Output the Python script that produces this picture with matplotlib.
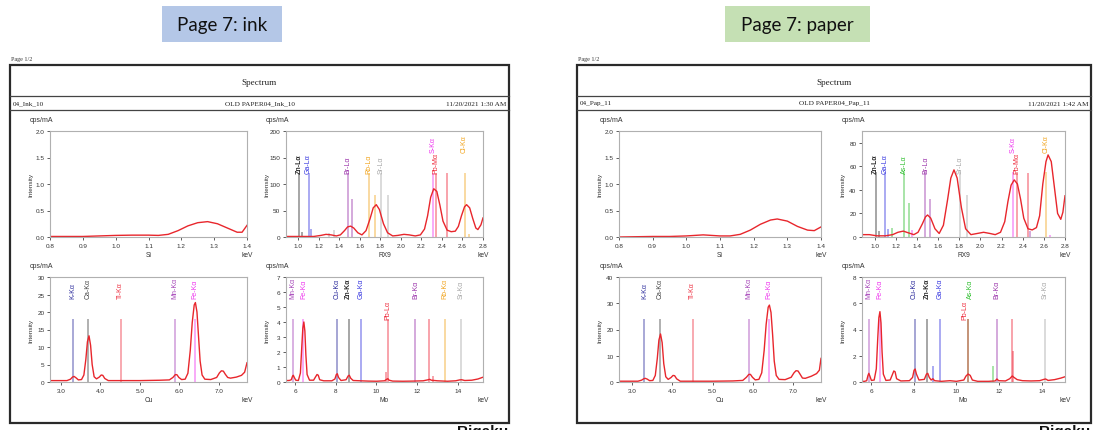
import matplotlib
matplotlib.use("Agg")
import matplotlib.pyplot as plt
from matplotlib.patches import Rectangle
from matplotlib.lines import Line2D

W, H = 1098, 431

# ---------------- ink page (left) ----------------
INK_SI_KEV = [0.80, 0.85, 0.90, 0.95, 1.00, 1.05, 1.10, 1.13, 1.16, 1.19, 1.22, 1.25,
              1.28, 1.31, 1.34, 1.37, 1.385, 1.40]
INK_SI_CPS = [0.01, 0.01, 0.01, 0.02, 0.03, 0.035, 0.035, 0.03, 0.05, 0.12, 0.21, 0.27,
              0.29, 0.25, 0.17, 0.09, 0.09, 0.22]

INK_RX9_KEV = [0.88, 0.95, 1.05, 1.15, 1.22, 1.27, 1.32, 1.37, 1.41, 1.45, 1.48, 1.51,
               1.54, 1.58, 1.62, 1.66, 1.70, 1.73, 1.76, 1.79, 1.83, 1.87, 1.92, 1.97,
               2.03, 2.08, 2.14, 2.19, 2.23, 2.26, 2.29, 2.32, 2.35, 2.38, 2.41, 2.45,
               2.49, 2.53, 2.56, 2.59, 2.62, 2.64, 2.67, 2.70, 2.73, 2.75, 2.78, 2.80]
INK_RX9_CPS = [1, 1, 1, 1, 3, 5, 4, 2, 4, 12, 19, 20.5,
               17, 8, 4, 12, 35, 55, 61, 52, 25, 8, 2, 3,
               5, 4, 2, 4, 15, 40, 75, 91, 86, 60, 30, 13,
               10, 11, 20, 40, 57, 61, 55, 35, 17, 14, 23, 36]

INK_CU_KEV = [2.72, 3.0, 3.15, 3.24, 3.29, 3.33, 3.38, 3.44, 3.52, 3.58, 3.63, 3.67,
              3.71, 3.75, 3.79, 3.84, 3.9, 3.97, 4.02, 4.06, 4.11, 4.2, 4.5, 5.0,
              5.5, 5.75, 5.84, 5.9, 5.94, 5.99, 6.06, 6.15, 6.22, 6.28, 6.33, 6.38,
              6.41, 6.45, 6.49, 6.53, 6.58, 6.65, 6.8, 6.95, 7.02, 7.07, 7.12, 7.17,
              7.23, 7.3, 7.45, 7.58, 7.66, 7.72]
INK_CU_CPS = [0.4, 0.4, 0.4, 0.8, 1.4, 1.6, 1.2, 0.6, 0.7, 2.0, 6.5, 11.5,
              13.2, 10.5, 5.0, 1.5, 0.9, 1.4, 2.0, 1.9, 1.0, 0.4, 0.4, 0.4,
              0.5, 0.6, 1.3, 2.1, 2.1, 1.3, 0.7, 0.8, 2.5, 9.0, 17.0, 22.0,
              22.7, 20.0, 13.0, 6.0, 2.0, 0.8, 0.7, 1.3, 2.6, 3.2, 3.1, 2.2,
              1.3, 1.1, 1.4, 1.9, 2.8, 5.5]

INK_MO_KEV = [5.54, 5.7, 5.8, 5.86, 5.9, 5.95, 6.02, 6.15, 6.25, 6.32, 6.37, 6.42,
              6.47, 6.52, 6.58, 6.7, 6.9, 7.0, 7.07, 7.13, 7.2, 7.4, 7.8, 7.95,
              8.02, 8.07, 8.13, 8.25, 8.5, 8.6, 8.66, 8.73, 8.85, 9.2, 9.6, 10.0,
              10.4, 10.5, 10.56, 10.62, 10.8, 11.3, 11.8, 12.3, 12.55, 12.62, 12.7, 13.0,
              13.5, 13.9, 14.1, 14.2, 14.35, 14.7, 15.0, 15.25]
INK_MO_CPS = [0.1, 0.1, 0.15, 0.38, 0.45, 0.3, 0.12, 0.1, 0.6, 2.4, 3.6, 4.0,
              3.4, 1.8, 0.5, 0.12, 0.12, 0.35, 0.5, 0.45, 0.15, 0.08, 0.08, 0.2,
              0.5, 0.55, 0.3, 0.1, 0.15, 0.4, 0.45, 0.25, 0.1, 0.08, 0.06, 0.05,
              0.08, 0.18, 0.22, 0.12, 0.06, 0.05, 0.06, 0.08, 0.15, 0.18, 0.12, 0.08,
              0.05, 0.08, 0.14, 0.15, 0.1, 0.12, 0.2, 0.32]

# element marker lines: energy, height, element
INK_RX9_LINE_KEV = [1.01, 1.035, 1.10, 1.125, 1.30, 1.35, 1.48, 1.525, 1.69, 1.75,
                    1.81, 1.87, 2.31, 2.345, 2.45, 2.62, 2.66]
INK_RX9_LINE_CPS = [120, 10, 120, 15, 8, 14, 120, 72, 120, 80,
                    120, 80, 120, 120, 120, 120, 5]
INK_RX9_LINE_EL = ["Zn", "Zn", "Ga", "Ga", "Sr", "Sr", "Br", "Br", "Rb", "Rb",
                   "Sr", "Sr", "S", "Pb", "Pb", "Cl", "Cl"]
INK_RX9_LABELS = ["Zn-Lα", "Ga-Lα", "Br-Lα", "Rb-Lα", "Sr-Lα", "S-Kα", "Pb-Mα", "Cl-Kα"]
INK_RX9_LABEL_KEV = [1.01, 1.10, 1.48, 1.69, 1.81, 2.31, 2.345, 2.62]
INK_RX9_LABEL_ROW = [1, 1, 1, 1, 1, 2, 1, 2]

INK_CU_LINE_KEV = [3.31, 3.69, 4.51, 5.90, 6.40]
INK_CU_LINE_CPS = [18, 18, 18, 18, 18]
INK_CU_LINE_EL = ["K", "Ca", "Ti", "Mn", "Fe"]
INK_CU_LABELS = ["K-Kα", "Ca-Kα", "Ti-Kα", "Mn-Kα", "Fe-Kα"]
INK_CU_LABEL_KEV = [3.31, 3.69, 4.51, 5.90, 6.40]
INK_CU_LABEL_ROW = [2, 2, 2, 2, 2]

INK_MO_LINE_KEV = [5.90, 6.40, 8.04, 8.63, 9.25, 10.45, 10.55, 11.92, 12.61, 12.8, 13.39, 14.16]
INK_MO_LINE_CPS = [4.2, 4.2, 4.2, 4.2, 4.2, 0.7, 4.2, 4.2, 4.2, 0.4, 4.2, 4.2]
INK_MO_LINE_EL = ["Mn", "Fe", "Cu", "Zn", "Ga", "Pb", "Pb", "Br", "Pb", "Pb", "Rb", "Sr"]
INK_MO_LABELS = ["Mn-Kα", "Fe-Kα", "Cu-Kα", "Zn-Kα", "Ga-Kα", "Pb-Lα", "Br-Kα", "Rb-Kα", "Sr-Kα"]
INK_MO_LABEL_KEV = [5.90, 6.40, 8.04, 8.63, 9.25, 10.55, 11.92, 13.39, 14.16]
INK_MO_LABEL_ROW = [2, 2, 2, 2, 2, 1, 2, 2, 2]

# ---------------- paper page (right) ----------------
PAP_SI_KEV = [0.80, 0.85, 0.90, 0.95, 1.00, 1.05, 1.10, 1.13, 1.16, 1.19, 1.22, 1.25,
              1.27, 1.30, 1.33, 1.36, 1.38, 1.40]
PAP_SI_CPS = [0.0, 0.005, 0.01, 0.01, 0.02, 0.04, 0.02, 0.02, 0.05, 0.13, 0.24, 0.32,
              0.34, 0.30, 0.20, 0.13, 0.12, 0.19]

PAP_RX9_KEV = [0.88, 0.95, 1.02, 1.10, 1.17, 1.22, 1.27, 1.32, 1.37, 1.41, 1.45, 1.48,
               1.50, 1.53, 1.57, 1.61, 1.65, 1.69, 1.72, 1.75, 1.78, 1.82, 1.86, 1.91,
               1.97, 2.03, 2.09, 2.14, 2.19, 2.23, 2.26, 2.29, 2.32, 2.35, 2.38, 2.41,
               2.45, 2.49, 2.53, 2.56, 2.59, 2.62, 2.64, 2.67, 2.70, 2.73, 2.76, 2.78, 2.80]
PAP_RX9_CPS = [2, 2, 1, 1, 2, 4, 5, 3.5, 2, 4, 11, 17,
               18.7, 16, 7, 3, 10, 32, 50, 57, 50, 25, 7, 2,
               3, 4, 3, 2, 4, 13, 30, 44, 48.5, 45, 32, 16,
               7, 6, 8, 18, 45, 64, 69.7, 64, 42, 20, 15, 21, 35]

PAP_CU_KEV = [2.68, 3.0, 3.15, 3.24, 3.29, 3.33, 3.38, 3.44, 3.52, 3.58, 3.63, 3.67,
              3.71, 3.75, 3.79, 3.84, 3.9, 3.97, 4.02, 4.06, 4.11, 4.2, 4.5, 5.0,
              5.5, 5.75, 5.84, 5.9, 5.94, 5.99, 6.06, 6.15, 6.22, 6.28, 6.33, 6.38,
              6.41, 6.45, 6.49, 6.53, 6.58, 6.65, 6.8, 6.95, 7.02, 7.07, 7.12, 7.17,
              7.23, 7.3, 7.45, 7.58, 7.65, 7.69]
PAP_CU_CPS = [0.3, 0.3, 0.3, 0.7, 1.2, 1.4, 1.1, 0.5, 0.6, 2.5, 9.0, 16.0,
              18.3, 15.0, 7.0, 2.0, 1.0, 1.7, 2.5, 2.4, 1.2, 0.3, 0.3, 0.3,
              0.4, 0.6, 1.8, 2.9, 2.9, 1.8, 0.8, 1.0, 3.5, 12.0, 22.0, 28.5,
              29.3, 26.5, 18.0, 8.0, 2.5, 1.0, 0.9, 1.8, 3.5, 4.3, 4.2, 3.0,
              1.5, 1.4, 2.2, 3.2, 4.5, 9.0]

PAP_MO_KEV = [5.58, 5.7, 5.8, 5.86, 5.9, 5.95, 6.02, 6.15, 6.25, 6.32, 6.37, 6.42,
              6.47, 6.52, 6.58, 6.7, 6.9, 7.0, 7.07, 7.13, 7.2, 7.4, 7.8, 7.95,
              8.02, 8.07, 8.13, 8.25, 8.5, 8.6, 8.66, 8.73, 8.82, 8.9, 8.98, 9.3,
              9.7, 10.0, 10.35, 10.45, 10.55, 10.65, 10.75, 11.0, 11.5, 11.82, 11.9, 11.98,
              12.3, 12.5, 12.62, 12.7, 12.85, 13.1, 13.5, 13.9, 14.1, 14.18, 14.3, 14.6,
              14.9, 15.09]
PAP_MO_CPS = [0.05, 0.05, 0.1, 0.5, 0.66, 0.45, 0.12, 0.15, 1.0, 3.4, 4.9, 5.36,
              4.5, 2.3, 0.6, 0.12, 0.15, 0.55, 0.84, 0.78, 0.25, 0.08, 0.1, 0.35,
              0.9, 0.99, 0.6, 0.15, 0.2, 0.6, 0.66, 0.35, 0.15, 0.25, 0.1, 0.05,
              0.1, 0.05, 0.15, 0.45, 0.61, 0.5, 0.15, 0.05, 0.05, 0.08, 0.23, 0.1,
              0.08, 0.25, 0.46, 0.35, 0.18, 0.1, 0.08, 0.1, 0.2, 0.23, 0.12, 0.18,
              0.3, 0.4]

PAP_RX9_LINE_KEV = [1.01, 1.04, 1.10, 1.125, 1.16, 1.28, 1.32, 1.35, 1.48, 1.525,
                    1.81, 1.87, 2.31, 2.345, 2.45, 2.47, 2.62, 2.66]
PAP_RX9_LINE_CPS = [55, 5, 55, 7, 8, 55, 29, 6, 55, 32,
                    55, 36, 55, 55, 54, 5, 55, 2]
PAP_RX9_LINE_EL = ["Zn", "Zn", "Ga", "Ga", "As", "As", "As", "S", "Br", "Br",
                   "Sr", "Sr", "S", "Pb", "Pb", "Br", "Cl", "S"]
PAP_RX9_LABELS = ["Zn-Lα", "Ga-Lα", "As-Lα", "Br-Lα", "Sr-Lα", "S-Kα", "Pb-Mα", "Cl-Kα"]
PAP_RX9_LABEL_KEV = [1.01, 1.10, 1.28, 1.48, 1.81, 2.31, 2.345, 2.62]
PAP_RX9_LABEL_ROW = [1, 1, 1, 1, 1, 2, 1, 2]

PAP_CU_LINE_KEV = [3.31, 3.69, 4.51, 5.90, 6.40]
PAP_CU_LINE_CPS = [24, 24, 24, 24, 24]
PAP_CU_LINE_EL = ["K", "Ca", "Ti", "Mn", "Fe"]
PAP_CU_LABELS = ["K-Kα", "Ca-Kα", "Ti-Kα", "Mn-Kα", "Fe-Kα"]
PAP_CU_LABEL_KEV = [3.31, 3.69, 4.51, 5.90, 6.40]
PAP_CU_LABEL_ROW = [2, 2, 2, 2, 2]

PAP_MO_LINE_KEV = [5.90, 6.40, 8.04, 8.63, 8.90, 9.25, 10.53, 10.55, 11.73, 11.92,
                   12.61, 12.64, 14.16]
PAP_MO_LINE_CPS = [4.8, 4.8, 4.8, 4.8, 1.2, 4.8, 4.8, 4.8, 1.25, 4.8,
                   4.8, 2.4, 4.8]
PAP_MO_LINE_EL = ["Mn", "Fe", "Cu", "Zn", "Ga", "Ga", "As", "Pb", "As", "Br",
                  "Pb", "Pb", "Sr"]
PAP_MO_LABELS = ["Mn-Kα", "Fe-Kα", "Cu-Kα", "Zn-Kα", "Ga-Kα", "Pb-Lα", "As-Kα", "Br-Kα", "Sr-Kα"]
PAP_MO_LABEL_KEV = [5.90, 6.40, 8.04, 8.63, 9.25, 10.40, 10.68, 11.92, 14.16]
PAP_MO_LABEL_ROW = [2, 2, 2, 2, 2, 1, 2, 2, 2]

EL_COLOR = {
    "Zn": "#2b2b2b", "Ga": "#3535e0", "Br": "#9a32aa", "Rb": "#f2a51f",
    "Sr": "#a8a8a8", "S": "#ee35ee", "Pb": "#ee2436", "Cl": "#f2a51f",
    "K": "#30309e", "Ca": "#444444", "Ti": "#ee3344", "Mn": "#a543b8",
    "Fe": "#ee35ee", "Cu": "#27279a", "As": "#2fbf2f",
}
SPEC_RED = "#e8262c"
SANS = ["Liberation Sans", "DejaVu Sans"]
SERIF = ["Liberation Serif", "DejaVu Serif"]


def px(l, t, r, b):
    return [l / W, 1 - b / H, (r - l) / W, (b - t) / H]


def ftext(fig, x, y, s, **kw):
    fig.text(x / W, 1 - y / H, s, **kw)


def fline(fig, x0, y0, x1, y1, lw=0.8, color="#555555"):
    fig.add_artist(Line2D([x0 / W, x1 / W], [1 - y0 / H, 1 - y1 / H],
                          transform=fig.transFigure, lw=lw, color=color))


def panel(fig, box, kev, cps, xlim, ylim, xticks, xfmt, yticks, yfmt, name,
          line_kev, line_cps, line_el, labels, label_kev, label_row):
    l, t, r, b = box
    ax = fig.add_axes(px(l, t, r, b))
    for e, h, el in zip(line_kev, line_cps, line_el):
        ax.vlines(e, 0, h, color=EL_COLOR[el], lw=1.3, alpha=0.45)
    ax.plot(kev, cps, color=SPEC_RED, lw=1.0)
    for s, e, row in zip(labels, label_kev, label_row):
        el = s.split("-")[0]
        y = (0.6 if row == 1 else 0.8) * ylim[1]
        ax.text(e, y, s, rotation=90, ha="center", va="bottom", color=EL_COLOR[el],
                fontsize=5.0, family=SANS, fontweight="bold" if el == "Zn" else "normal")
    ax.set_xlim(*xlim)
    ax.set_ylim(*ylim)
    ax.set_xticks(xticks)
    ax.set_xticklabels([xfmt.format(v) for v in xticks])
    ax.set_yticks(yticks)
    ax.set_yticklabels([yfmt.format(v) for v in yticks])
    ax.tick_params(length=2.5, width=0.6, color="#444444", labelsize=4.6,
                   labelcolor="#333333", pad=1.5)
    for lab in ax.get_xticklabels() + ax.get_yticklabels():
        lab.set_family(SANS)
    for sp in ax.spines.values():
        sp.set_color("#b0b0b0")
        sp.set_linewidth(0.8)
    ax.set_facecolor("white")
    ftext(fig, l - 8, t - 12, "cps/mA", ha="center", va="center", fontsize=5.0,
          family=SANS, color="#333333")
    ftext(fig, l - 19, (t + b) / 2, "Intensity", ha="center", va="center", rotation=90,
          fontsize=4.6, family=SANS, color="#333333")
    ftext(fig, (l + r) / 2, b + 18, name, ha="center", va="center", fontsize=4.8,
          family=SANS, color="#333333")
    ftext(fig, r, b + 18, "keV", ha="center", va="center", fontsize=4.8,
          family=SANS, color="#333333")
    return ax


def page(fig, x0, x1, sample, title, stamp, axes_x, data):
    top, bot = 66, 424
    fig.add_artist(Rectangle((x0 / W, 1 - bot / H), (x1 - x0) / W, (bot - top) / H,
                             transform=fig.transFigure, fill=False, lw=1.6,
                             edgecolor="#2a2a2a"))
    fline(fig, x0, 97, x1, 97, lw=0.9, color="#444444")
    fline(fig, x0, 111, x1, 111, lw=0.9, color="#444444")
    mid = (x0 + x1) / 2
    ftext(fig, x0 + 1, 60, "Page 1/2", ha="left", va="center", fontsize=4.4,
          family=SERIF, color="#333333")
    ftext(fig, mid, 83, "Spectrum", ha="center", va="center", fontsize=6.6,
          family=SERIF, color="#222222")
    ftext(fig, x0 + 3, 104, sample, ha="left", va="center", fontsize=5.2,
          family=SERIF, color="#222222")
    ftext(fig, mid, 104, title, ha="center", va="center", fontsize=5.2,
          family=SERIF, color="#222222")
    ftext(fig, x1 - 3, 104, stamp, ha="right", va="center", fontsize=5.2,
          family=SERIF, color="#222222")
    ftext(fig, x1 - 1, 425, "Rigaku", ha="right", va="top", fontsize=11,
          fontweight="bold", family=SANS, color="#111111")
    (la, lb, ra, rb), rows = axes_x, [(132, 238), (278, 383)]
    si, rx9, cu, mo = data
    panel(fig, (la, rows[0][0], lb, rows[0][1]), *si)
    panel(fig, (ra, rows[0][0], rb, rows[0][1]), *rx9)
    panel(fig, (la, rows[1][0], lb, rows[1][1]), *cu)
    panel(fig, (ra, rows[1][0], rb, rows[1][1]), *mo)


def main():
    fig = plt.figure(figsize=(W / 100, H / 100), dpi=100)
    fig.patch.set_facecolor("white")

    si_ticks = [0.8, 0.9, 1.0, 1.1, 1.2, 1.3, 1.4]
    rx_ticks = [1.0, 1.2, 1.4, 1.6, 1.8, 2.0, 2.2, 2.4, 2.6, 2.8]
    cu_ticks = [3.0, 4.0, 5.0, 6.0, 7.0]
    mo_ticks = [6, 8, 10, 12, 14]
    si_y = [0.0, 0.5, 1.0, 1.5, 2.0]

    ink = (
        (INK_SI_KEV, INK_SI_CPS, (0.8, 1.4), (0, 2.0), si_ticks, "{:.1f}", si_y, "{:.1f}", "Si",
         [], [], [], [], [], []),
        (INK_RX9_KEV, INK_RX9_CPS, (0.88, 2.8), (0, 200), rx_ticks, "{:.1f}",
         [0, 50, 100, 150, 200], "{:d}", "RX9",
         INK_RX9_LINE_KEV, INK_RX9_LINE_CPS, INK_RX9_LINE_EL,
         INK_RX9_LABELS, INK_RX9_LABEL_KEV, INK_RX9_LABEL_ROW),
        (INK_CU_KEV, INK_CU_CPS, (2.72, 7.72), (0, 30), cu_ticks, "{:.1f}",
         [0, 5, 10, 15, 20, 25, 30], "{:d}", "Cu",
         INK_CU_LINE_KEV, INK_CU_LINE_CPS, INK_CU_LINE_EL,
         INK_CU_LABELS, INK_CU_LABEL_KEV, INK_CU_LABEL_ROW),
        (INK_MO_KEV, INK_MO_CPS, (5.54, 15.25), (0, 7), mo_ticks, "{:d}",
         [0, 1, 2, 3, 4, 5, 6, 7], "{:d}", "Mo",
         INK_MO_LINE_KEV, INK_MO_LINE_CPS, INK_MO_LINE_EL,
         INK_MO_LABELS, INK_MO_LABEL_KEV, INK_MO_LABEL_ROW),
    )
    pap = (
        (PAP_SI_KEV, PAP_SI_CPS, (0.8, 1.4), (0, 2.0), si_ticks, "{:.1f}", si_y, "{:.1f}", "Si",
         [], [], [], [], [], []),
        (PAP_RX9_KEV, PAP_RX9_CPS, (0.88, 2.8), (0, 90), rx_ticks, "{:.1f}",
         [0, 20, 40, 60, 80], "{:d}", "RX9",
         PAP_RX9_LINE_KEV, PAP_RX9_LINE_CPS, PAP_RX9_LINE_EL,
         PAP_RX9_LABELS, PAP_RX9_LABEL_KEV, PAP_RX9_LABEL_ROW),
        (PAP_CU_KEV, PAP_CU_CPS, (2.68, 7.69), (0, 40), cu_ticks, "{:.1f}",
         [0, 10, 20, 30, 40], "{:d}", "Cu",
         PAP_CU_LINE_KEV, PAP_CU_LINE_CPS, PAP_CU_LINE_EL,
         PAP_CU_LABELS, PAP_CU_LABEL_KEV, PAP_CU_LABEL_ROW),
        (PAP_MO_KEV, PAP_MO_CPS, (5.58, 15.09), (0, 8), mo_ticks, "{:d}",
         [0, 2, 4, 6, 8], "{:d}", "Mo",
         PAP_MO_LINE_KEV, PAP_MO_LINE_CPS, PAP_MO_LINE_EL,
         PAP_MO_LABELS, PAP_MO_LABEL_KEV, PAP_MO_LABEL_ROW),
    )

    page(fig, 10, 509, "04_Ink_10", "OLD PAPER04_Ink_10", "11/20/2021 1:30 AM",
         (50, 247, 286, 483), ink)
    page(fig, 577, 1091, "04_Pap_11", "OLD PAPER04_Pap_11", "11/20/2021 1:42 AM",
         (619, 821, 862, 1065), pap)

    # slide captions above each printout
    for (l, r, txt, col) in [(162, 282, "Page 7: ink", "#b4c7e7"),
                             (725, 870, "Page 7: paper", "#c5e0b4")]:
        fig.add_artist(Rectangle((l / W, 1 - 43 / H), (r - l) / W, 36 / H,
                                 transform=fig.transFigure, facecolor=col,
                                 edgecolor="none"))
        ftext(fig, (l + r) / 2, 26, txt, ha="center", va="center", fontsize=13.5,
              family=["Lato", "DejaVu Sans"], color="#111111")

    fig.savefig("out.png", dpi=100, facecolor="white")


if __name__ == "__main__":
    main()
